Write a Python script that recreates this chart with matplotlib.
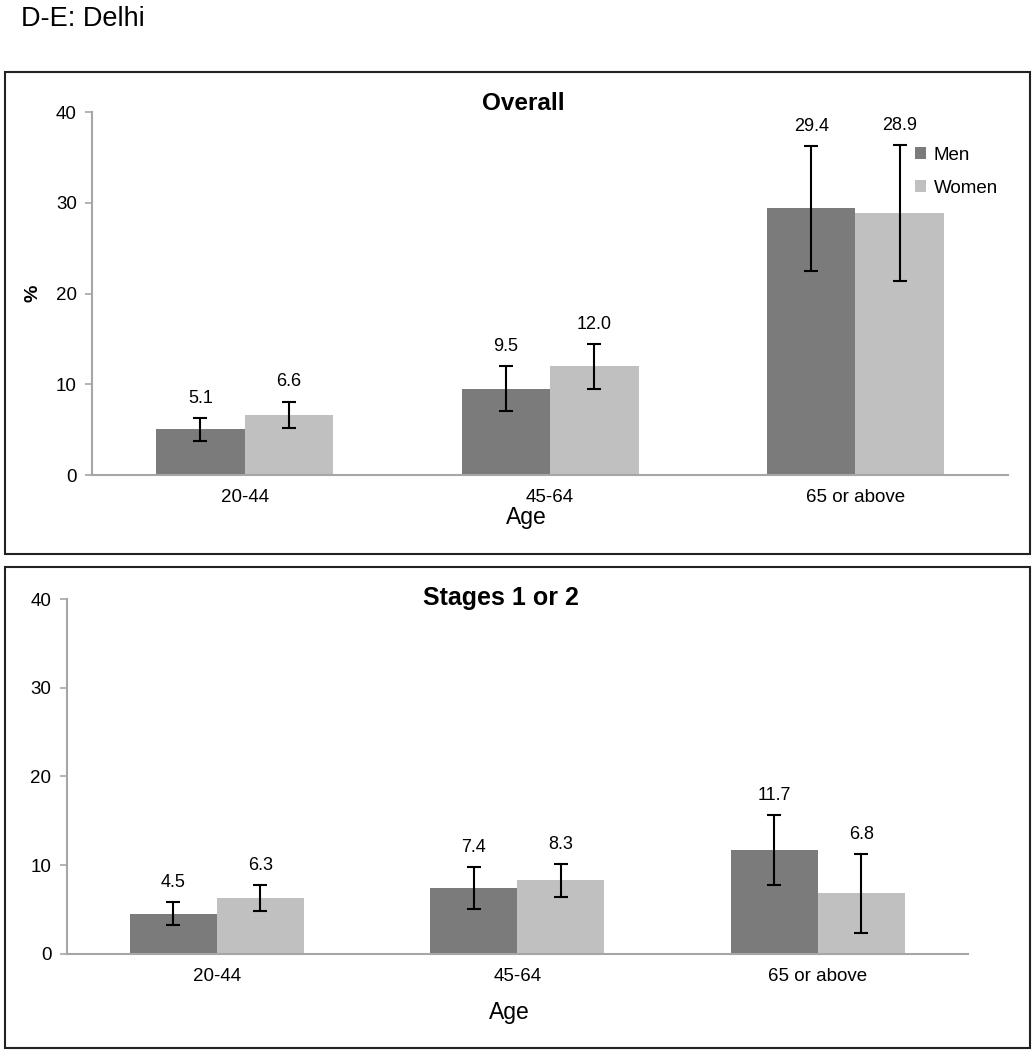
import numpy as np
import matplotlib.pyplot as plt
from matplotlib.patches import Rectangle

plt.rcParams['font.family'] = ['Liberation Sans', 'DejaVu Sans']

# Data
ages = ['20-44', '45-64', '65 or above']

overall_men = [5.1, 9.5, 29.4]
overall_women = [6.6, 12.0, 28.9]
overall_men_lo = [3.8, 7.1, 22.5]
overall_men_hi = [6.3, 12.0, 36.3]
overall_women_lo = [5.2, 9.5, 21.4]
overall_women_hi = [8.1, 14.4, 36.4]

stage_men = [4.5, 7.4, 11.7]
stage_women = [6.3, 8.3, 6.8]
stage_men_lo = [3.2, 5.0, 7.8]
stage_men_hi = [5.8, 9.8, 15.6]
stage_women_lo = [4.8, 6.4, 2.3]
stage_women_hi = [7.7, 10.1, 11.2]

men_color = '#7b7b7b'
women_color = '#c0c0c0'
axis_color = '#a6a6a6'


def draw_panel(ax, men, women, men_lo, men_hi, women_lo, women_hi, legend=False):
    x = np.arange(len(ages))
    w = 0.29
    men_err = [np.array(men) - np.array(men_lo), np.array(men_hi) - np.array(men)]
    women_err = [np.array(women) - np.array(women_lo), np.array(women_hi) - np.array(women)]
    ax.bar(x - w / 2, men, w, color=men_color, label='Men', zorder=2)
    ax.bar(x + w / 2, women, w, color=women_color, label='Women', zorder=2)
    ax.errorbar(x - w / 2, men, yerr=men_err, fmt='none', ecolor='black',
                elinewidth=1.5, capsize=5, capthick=1.5, zorder=3)
    ax.errorbar(x + w / 2, women, yerr=women_err, fmt='none', ecolor='black',
                elinewidth=1.5, capsize=5, capthick=1.5, zorder=3)

    # value labels above the error bars
    for xi, v, hi in zip(x - w / 2, men, men_hi):
        ax.annotate('%.1f' % v, (xi, hi), xytext=(0, 8), textcoords='offset points',
                    ha='center', va='bottom', fontsize=13)
    for xi, v, hi in zip(x + w / 2, women, women_hi):
        ax.annotate('%.1f' % v, (xi, hi), xytext=(0, 8), textcoords='offset points',
                    ha='center', va='bottom', fontsize=13)

    ax.set_xlim(-0.5, len(ages) - 0.5)
    ax.set_ylim(0, 40)
    ax.set_yticks([0, 10, 20, 30, 40])
    ax.set_xticks(x)
    ax.set_xticklabels(ages)
    ax.tick_params(axis='x', length=0, labelsize=13.5, pad=10)
    ax.tick_params(axis='y', length=5, width=1.2, color=axis_color, labelsize=13.5, pad=6)
    for s in ['top', 'right']:
        ax.spines[s].set_visible(False)
    for s in ['left', 'bottom']:
        ax.spines[s].set_color(axis_color)
        ax.spines[s].set_linewidth(1.5)

    if legend:
        ax.legend(loc='upper left', bbox_to_anchor=(0.888, 0.93), frameon=False,
                  fontsize=13.5, handlelength=0.6, handleheight=0.6,
                  handletextpad=0.4, labelspacing=0.85, borderpad=0)


fig = plt.figure(figsize=(10.34, 10.5), dpi=100)

fig.text(0.020, 0.982, 'D-E: Delhi', fontsize=19.5, ha='left', va='center')

# panel frames
fig.patches.append(Rectangle((0.005, 0.472), 0.991, 0.459, transform=fig.transFigure,
                             fill=False, edgecolor='#222222', linewidth=1.5))
fig.patches.append(Rectangle((0.005, 0.002), 0.991, 0.458, transform=fig.transFigure,
                             fill=False, edgecolor='#222222', linewidth=1.5))

ax1 = fig.add_axes([0.089, 0.5476, 0.886, 0.3457])
draw_panel(ax1, overall_men, overall_women, overall_men_lo, overall_men_hi,
           overall_women_lo, overall_women_hi, legend=True)
ax1.set_ylabel('%', fontsize=14, fontweight='bold', labelpad=10)
fig.text(0.506, 0.901, 'Overall', fontsize=17.5, fontweight='bold', ha='center', va='center')
fig.text(0.509, 0.507, 'Age', fontsize=16.5, ha='center', va='center')

ax2 = fig.add_axes([0.0645, 0.0917, 0.8715, 0.3378])
draw_panel(ax2, stage_men, stage_women, stage_men_lo, stage_men_hi,
           stage_women_lo, stage_women_hi)
fig.text(0.484, 0.430, 'Stages 1 or 2', fontsize=18, fontweight='bold', ha='center', va='center')
fig.text(0.493, 0.036, 'Age', fontsize=16.5, ha='center', va='center')

fig.savefig('out.png', dpi=100)
